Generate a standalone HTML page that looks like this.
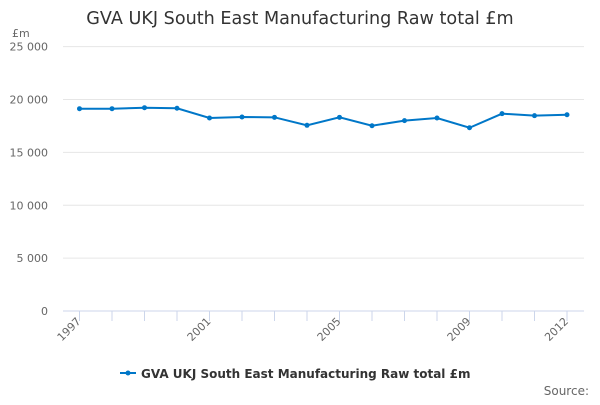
<!DOCTYPE html>
<html><head><meta charset="utf-8"><style>
body{margin:0;background:#fff;font-family:"Liberation Sans","DejaVu Sans",sans-serif;}
svg text{font-family:"DejaVu Sans","Liberation Sans",sans-serif;}
</style></head><body>
<svg id="c" width="600" height="400" xmlns="http://www.w3.org/2000/svg">
<text x="300" y="24" text-anchor="middle" font-size="17.6" fill="#333">GVA UKJ South East Manufacturing Raw total £m</text>
<text x="12" y="37" font-size="11" fill="#666">£m</text>
<g id="grid"></g><g id="xt"></g><g id="series"></g>
<g>
<line x1="120" y1="373" x2="136" y2="373" stroke="#0077c8" stroke-width="2"/>
<circle cx="128" cy="373" r="2.5" fill="#0077c8"/>
<text x="141" y="378" font-size="12" font-weight="bold" fill="#333">GVA UKJ South East Manufacturing Raw total £m</text>
</g>
<text x="589" y="395" text-anchor="end" font-size="12" fill="#666">Source:</text>
</svg>
<script>
const years=[1997,1998,1999,2000,2001,2002,2003,2004,2005,2006,2007,2008,2009,2010,2011,2012];
const values=[19130,19130,19225,19170,18250,18345,18315,17560,18315,17520,18000,18250,17330,18660,18470,18560];
const yTicks=[0,5000,10000,15000,20000,25000];
const yTickLabels=["0","5 000","10 000","15 000","20 000","25 000"];
const xLabelYears=[1997,2001,2005,2009,2012];
const NS="http://www.w3.org/2000/svg";
const x=v=>79.5+(v-1997)*(567-79.5)/15;
const y=v=>311-v*(311-99.5)/20000;
function mk(t,a,p){const e=document.createElementNS(NS,t);for(const k in a)e.setAttribute(k,a[k]);p.appendChild(e);return e;}
const g=document.getElementById('grid');
yTicks.forEach((t,i)=>{
 const l=mk('line',{x1:63,x2:584,y1:y(t),y2:y(t),stroke:t===0?'#ccd6eb':'#e6e6e6'},g);
 
 
 const tx=mk('text',{x:48,y:y(t)+4,'text-anchor':'end','font-size':11,fill:'#666'},g);
 tx.textContent=yTickLabels[i];
 
 
});
const xt=document.getElementById('xt');
years.forEach(yr=>{
 const l=mk('line',{x1:x(yr),x2:x(yr),y1:311,y2:321,stroke:'#ccd6eb'},xt);
 
 
});
xLabelYears.forEach(yr=>{
 const tx=mk('text',{x:x(yr)+2,y:322,'text-anchor':'end','font-size':11,fill:'#666',transform:`rotate(-45 ${x(yr)+2} 322)`},xt);
 tx.textContent=yr;
 
 
});
const s=document.getElementById('series');
const p=mk('polyline',{points:years.map((yr,i)=>x(yr)+','+y(values[i])).join(' '),fill:'none',stroke:'#0077c8','stroke-width':2},s);


years.forEach((yr,i)=>{
 const c=mk('circle',{cx:x(yr),cy:y(values[i]),r:2.5,fill:'#0077c8'},s);
 
 
});
</script>
</body></html>
